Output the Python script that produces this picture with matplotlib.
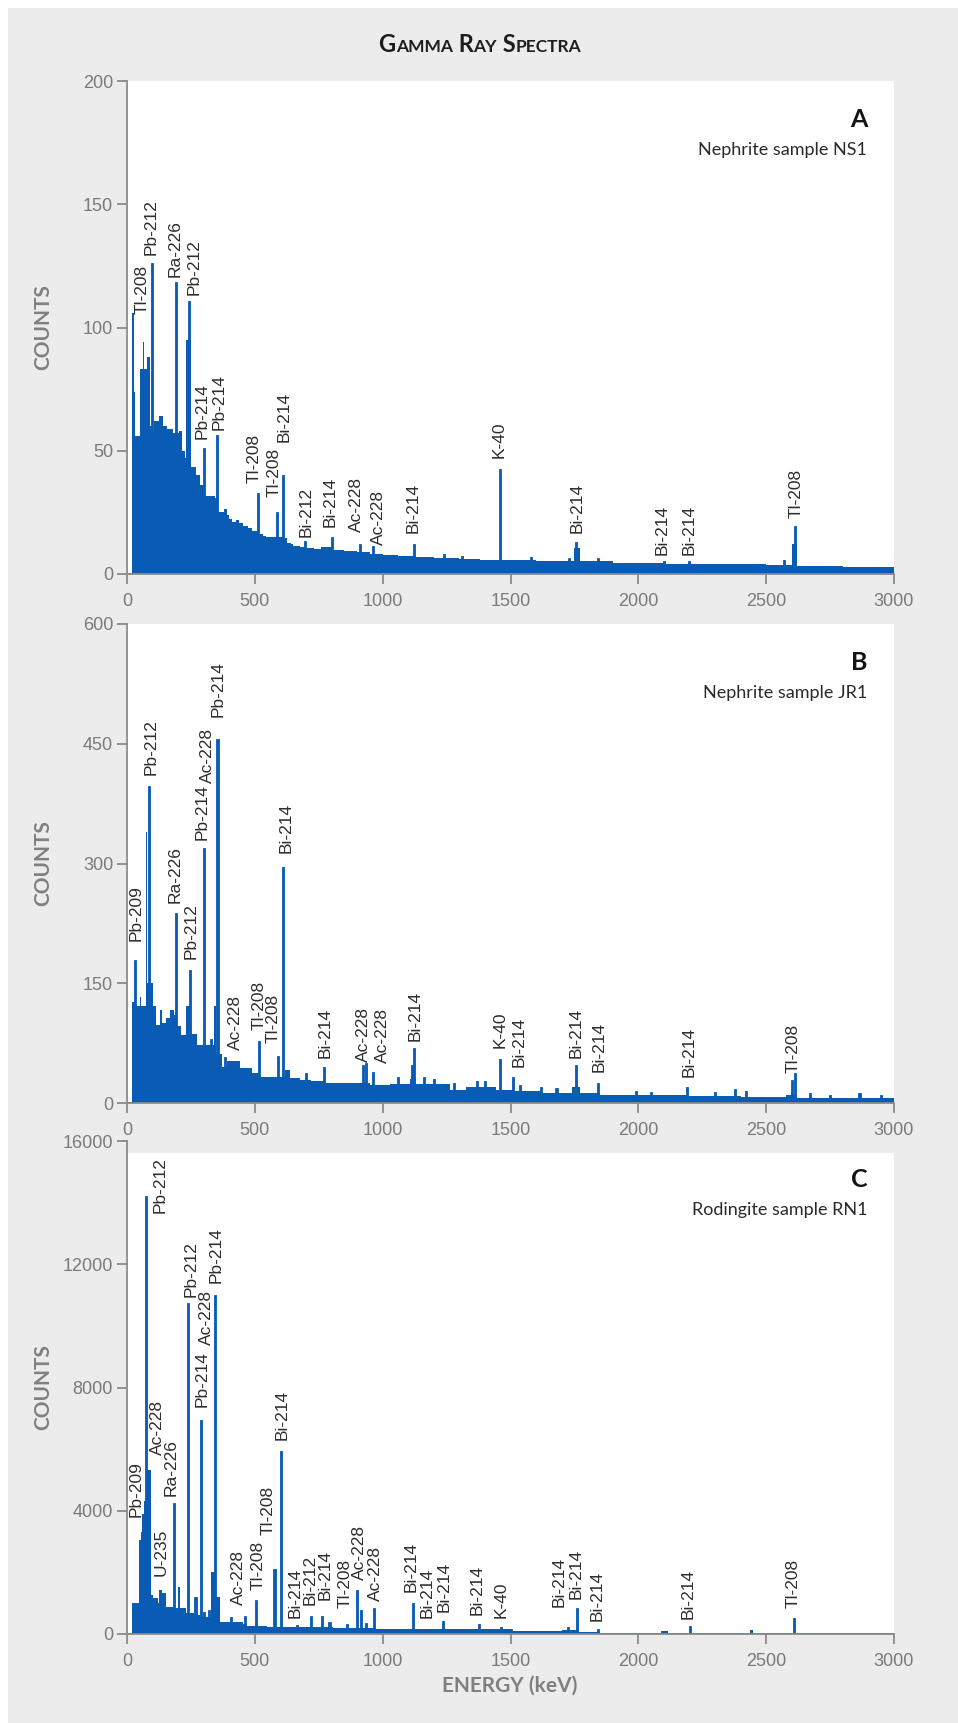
import numpy as np
import matplotlib
matplotlib.use("Agg")
import matplotlib.pyplot as plt
from matplotlib.patches import Rectangle

BLUE = "#0a5bb4"
PANEL_BG = "#ececec"
TICK_GREY = "#7a7a7a"
LABEL_GREY = "#808080"

# ---- panel A: nephrite NS1 ------------------------------------------------
a_edges = [0, 20, 28, 33, 50, 62, 68, 80, 90, 100, 105, 125, 140, 155, 180, 205,
           215, 225, 232, 250, 270, 285, 305, 345, 352, 378, 390, 400, 410, 425,
           440, 455, 475, 490, 515, 530, 545, 580, 612, 625, 640, 650, 675, 700,
           730, 760, 800, 850, 900, 950, 1000, 1060, 1130, 1200, 1300, 1380, 1460,
           1600, 1750, 1770, 1900, 2100, 2300, 2500, 2600, 2620, 2800, 3000]
a_counts = [0.6, 106, 74, 56, 83, 94, 83, 88, 60, 58, 62, 64, 60, 59, 57,
            58, 50, 47, 95, 43.5, 40, 36, 31.5, 31, 25.3, 26.5, 24, 22.5, 21,
            22, 20.5, 19.5, 18.6, 17.5, 16.3, 15.6, 15.2, 15, 14.5, 12.5, 12,
            11.3, 11, 10.6, 10.2, 10.8, 9.8, 9.3, 9.0, 8.2, 7.6, 7.2, 6.8, 6.4,
            6.0, 5.6, 5.7, 5.4, 10.5, 5.2, 4.6, 4.2, 3.9, 3.6, 12, 3.2, 3.0]
a_peak_e = [96, 193, 242, 300, 351, 513, 587, 610, 698, 803, 910, 962, 1121,
            1240, 1310, 1460, 1582, 1727, 1758, 1844, 2100, 2198, 2570, 2614]
a_peak_h = [126, 118.5, 110.7, 51, 56.4, 32.8, 25, 40, 13.5, 14.9, 12.2, 11.3,
            12.2, 8, 7.5, 42.6, 6.9, 6.5, 13.1, 6.5, 5.2, 5.3, 5.5, 19.6]
a_labels = ["Tl-208", "Pb-212", "Ra-226", "Pb-212", "Pb-214", "Pb-214", "Tl-208",
            "Tl-208", "Bi-214", "Bi-212", "Bi-214", "Ac-228", "Ac-228", "Bi-214",
            "K-40", "Bi-214", "Bi-214", "Bi-214", "Tl-208"]
a_label_e = [59, 93, 187, 262, 294, 359, 497, 574, 614, 702, 795, 896, 982,
             1119, 1457, 1760, 2092, 2197, 2618]
a_label_c = [105.5, 129.4, 120.6, 113.2, 54.9, 58.4, 36.8, 31.4, 53.7, 15.2,
             19.0, 17.0, 11.6, 16.6, 46.9, 16.5, 7.7, 7.7, 22.6]

# ---- panel B: nephrite JR1 ------------------------------------------------
b_edges = [0, 20, 30, 50, 56, 73, 80, 92, 102, 115, 128, 135, 154, 167, 185,
           196, 213, 232, 252, 272, 309, 342, 350, 372, 390, 441, 487, 519, 617,
           636, 675, 720, 779, 871, 950, 1030, 1105, 1132, 1262, 1327, 1445, 1510,
           1620, 1740, 1770, 1835, 1849, 2000, 2200, 2400, 2578, 2618, 2800, 3000]
b_counts = [1, 127, 121, 133, 121, 340, 150, 150, 121, 98, 117, 100, 106, 117,
            110, 96, 85, 121, 87, 73, 73, 121, 62, 45.6, 52, 43.5, 37, 33,
            41.4, 31, 29, 27, 24.7, 25.5, 22.6, 24, 30, 24, 16.4, 20.5, 16, 14.5,
            13, 20, 12.1, 12, 10.5, 9.5, 8.5, 7.9, 10, 6.5, 5.8]
b_peak_e = [33, 86, 193, 246, 302, 330, 354, 385, 515, 589, 610, 700, 769, 923,
            936, 962, 1060, 1113, 1123, 1160, 1200, 1280, 1370, 1400, 1460, 1511,
            1539, 1620, 1680, 1755, 1842, 1990, 2050, 2191, 2300, 2377, 2420,
            2600, 2611, 2670, 2750, 2865, 2950]
b_peak_h = [179, 397, 238, 166, 319, 80, 456, 58, 78, 59, 296, 38, 45.6, 48,
            50, 39, 32, 48, 68.6, 32, 30, 25, 28, 27, 55, 33, 22.6, 20, 19, 47.6,
            25, 15, 14, 19.6, 14, 18, 15, 28.8, 38, 13, 10, 13, 10]
b_labels = ["Pb-209", "Pb-212", "Ra-226", "Pb-212", "Pb-214", "Ac-228", "Pb-214",
            "Ac-228", "Tl-208", "Tl-208", "Bi-214", "Bi-214", "Ac-228", "Ac-228",
            "Bi-214", "K-40", "Bi-214", "Bi-214", "Bi-214", "Bi-214", "Tl-208"]
b_label_e = [37, 93, 187, 249, 294, 313, 356, 424, 517, 572, 623, 773, 923, 999,
             1125, 1458, 1533, 1757, 1845, 2198, 2605]
b_label_c = [203.5, 411, 250, 181, 330, 401, 484, 66.5, 91.5, 74.8, 313, 56,
             51.8, 49.8, 78.2, 68.6, 45.6, 55.9, 39.3, 32.2, 37.2]

# ---- panel C: rodingite RN1 -----------------------------------------------
c_edges = [0, 20, 47, 53, 60, 68, 74, 80, 92, 102, 122, 126, 135, 154, 180,
           200, 208, 230, 262, 285, 328, 343, 362, 453, 470, 548, 700, 760, 806,
           852, 975, 1230, 1500, 1700, 1760, 1850, 2090, 2115, 2435, 2448, 3000]
c_counts = [30, 1000, 3050, 3300, 3900, 4327, 9400, 5322, 1270, 1160, 1000,
            1428, 1320, 887, 833, 1536, 833, 671, 617, 563, 2023, 1212, 400,
            314, 270, 238, 216, 238, 206, 200, 162, 150, 108, 120, 80, 40, 97,
            35, 130, 32]
c_peak_e = [76, 183, 237, 268, 290, 301, 321, 345, 408, 462, 505, 577, 601, 664,
            719, 762, 792, 860, 901, 914, 936, 965, 1118, 1236, 1376, 1464, 1503,
            1725, 1760, 1842, 2201, 2609]
c_peak_h = [14200, 4250, 10750, 1190, 6943, 725, 779, 11000, 563, 584, 1103,
            2110, 5939, 292, 584, 584, 400, 325, 1428, 779, 346, 854, 1000, 433,
            314, 216, 151, 238, 833, 151, 260, 508]
c_labels = ["Pb-209", "Pb-212", "Ac-228", "Ra-226", "U-235", "Pb-212", "Pb-214",
            "Ac-228", "Pb-214", "Ac-228", "Tl-208", "Tl-208", "Bi-214", "Bi-214",
            "Bi-212", "Bi-214", "Tl-208", "Ac-228", "Ac-228", "Bi-214", "Bi-214",
            "Bi-214", "Bi-214", "K-40", "Bi-214", "Bi-214", "Bi-214", "Bi-214",
            "Tl-208"]
c_label_e = [34, 128, 121, 174, 134, 249, 294, 311, 350, 435, 511, 552, 608, 656,
             715, 776, 854, 910, 972, 1112, 1173, 1240, 1370, 1464, 1690, 1757,
             1840, 2194, 2605]
c_label_c = [3807, 13672, 5808, 4489, 1882, 10943, 7374, 9378, 11378, 942, 1428,
             3213, 6294, 509, 942, 1103, 833, 1753, 1082, 1374, 509, 725, 617,
             509, 865, 1124, 432, 486, 833]

panels = [
    ("A", "Nephrite sample NS1", [0, 50, 100, 150, 200],
     a_edges, a_counts, a_peak_e, a_peak_h, a_labels, a_label_e, a_label_c),
    ("B", "Nephrite sample JR1", [0, 150, 300, 450, 600],
     b_edges, b_counts, b_peak_e, b_peak_h, b_labels, b_label_e, b_label_c),
    ("C", "Rodingite sample RN1", [0, 4000, 8000, 12000, 16000],
     c_edges, c_counts, c_peak_e, c_peak_h, c_labels, c_label_e, c_label_c),
]
energy_ticks = [0, 500, 1000, 1500, 2000, 2500, 3000]

W, H = 958, 1723
fig = plt.figure(figsize=(W / 100, H / 100), dpi=100, facecolor="white")
fig.patches.append(Rectangle((8 / W, 0), 1, 1 - 8 / H, transform=fig.transFigure,
                             facecolor=PANEL_BG, edgecolor="none", zorder=-10))

# axes boxes in pixels: (top, bottom)
boxes = [(81, 574), (624, 1103), (1141, 1634)]
left_px, right_px = 127, 894

for (letter, sample, yticks, edges, counts, pk_e, pk_h, labs, lab_e, lab_c), (top, bot) in zip(panels, boxes):
    ax = fig.add_axes([left_px / W, 1 - bot / H, (right_px - left_px) / W, (bot - top) / H])
    ax.set_facecolor("white")
    ax.stairs(counts, edges, fill=True, color=BLUE, linewidth=0)
    ax.bar(pk_e, pk_h, width=8, color=BLUE, edgecolor=BLUE, linewidth=0.6)
    ax.set_xlim(0, 3000)
    ax.set_ylim(0, yticks[-1])
    ax.set_xticks(energy_ticks)
    ax.set_yticks(yticks)
    for s in ("top", "right"):
        ax.spines[s].set_visible(False)
    for s in ("left", "bottom"):
        ax.spines[s].set_color("#8a8a8a")
        ax.spines[s].set_linewidth(1.3)
    ax.tick_params(axis="both", colors="#8a8a8a", labelcolor=TICK_GREY, labelsize=13,
                   length=7, width=1.3)
    ax.tick_params(axis="x", pad=7)
    ax.tick_params(axis="y", pad=3)
    for lab in ax.get_xticklabels() + ax.get_yticklabels():
        lab.set_family(["Liberation Sans", "DejaVu Sans"])

    for name, x, y in zip(labs, lab_e, lab_c):
        ax.text(x, y, name, rotation=90, ha="center", va="bottom", fontsize=12.5,
                color="#2e2e2e", family=["Liberation Sans", "DejaVu Sans"])

    h = bot - top
    ax.text(0.965, 1 - 46 / h, letter, transform=ax.transAxes, ha="right",
            va="baseline", fontsize=18, fontweight="bold", color="#141414",
            family=["Lato", "DejaVu Sans"])
    ax.text(0.965, 1 - 74 / h, sample, transform=ax.transAxes, ha="right",
            va="baseline", fontsize=13, color="#2a2a2a", family=["Lato", "DejaVu Sans"])

    fig.text(43.5 / W, 1 - (top + bot) / 2 / H, "COUNTS", rotation=90, ha="center",
             va="center", fontsize=15, fontweight="bold", color=LABEL_GREY,
             family=["Lato", "DejaVu Sans"])

# panel C's white field starts a little below its top tick
ax.axhspan(15610, 16000, color=PANEL_BG, zorder=0.5, linewidth=0)

fig.text(510 / W, 1 - 1686 / H, "ENERGY (keV)", ha="center", va="center",
         fontsize=15, fontweight="bold", color=LABEL_GREY,
         family=["Lato", "DejaVu Sans"])

# small-caps title built from pieces
parts = [("G", 17), ("AMMA", 12.5), (" R", 17), ("AY", 12.5), (" S", 17), ("PECTRA", 12.5)]
renderer = fig.canvas.get_renderer()
pieces = [fig.text(0, 1 - 52 / H, s, fontsize=sz, fontweight="bold", color="#1e1e1e",
                   va="baseline", family=["Lato", "DejaVu Sans"]) for s, sz in parts]
widths = [t.get_window_extent(renderer).width for t in pieces]
x = 480 - sum(widths) / 2
for t, w in zip(pieces, widths):
    t.set_x(x / W)
    x += w

fig.savefig("out.png", dpi=100, facecolor=fig.get_facecolor())
